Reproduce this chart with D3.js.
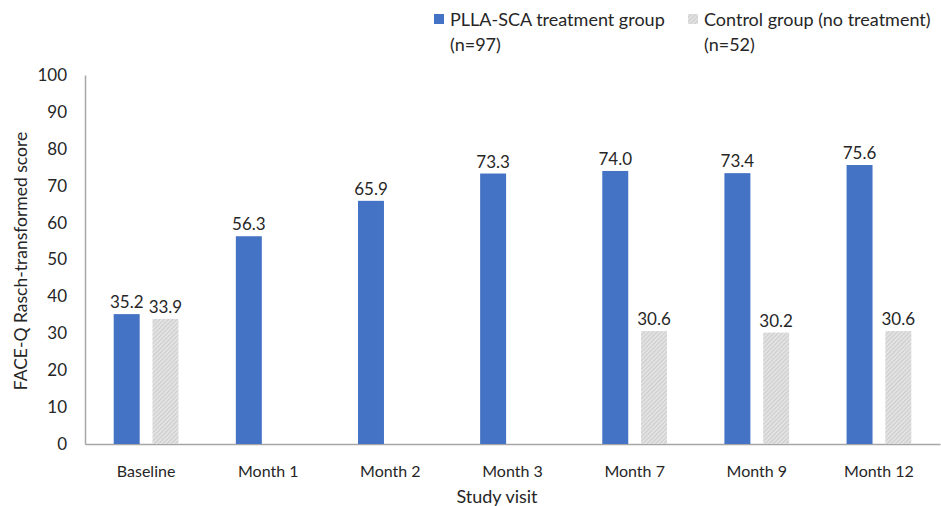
<!DOCTYPE html>
<html lang="en">
<head>
<meta charset="utf-8">
<title>FACE-Q scores by study visit</title>
<script src="https://d3js.org/d3.v7.min.js"></script>
<style>
  body { margin: 0; background: #fff; }
  text { font-family: Lato, "Open Sans", sans-serif; fill: #262626; }
</style>
</head>
<body>
<div id="chart"></div>
<script>
var visits = ["Baseline", "Month 1", "Month 2", "Month 3", "Month 7", "Month 9", "Month 12"];
var treatment = [35.2, 56.3, 65.9, 73.3, 74.0, 73.4, 75.6];
var control = [33.9, null, null, null, 30.6, 30.2, 30.6];
var yTicks = [0, 10, 20, 30, 40, 50, 60, 70, 80, 90, 100];
var groups = ["treat", "control"];
var legendLabels = [["PLLA-SCA treatment group", "(n=97)"], ["Control group (no treatment)", "(n=52)"]];

var w = 941, h = 506;
var mLeft = 85, mRight = 940, mTop = 75, mBottom = 444;

var svg = d3.select("#chart").append("svg")
    .attr("width", w).attr("height", h);

// hatched fill for the control bars
var pat = svg.append("defs").append("pattern")
    .attr("id", "hatch")
    .attr("patternUnits", "userSpaceOnUse")
    .attr("width", 3).attr("height", 3)
    .attr("patternTransform", "rotate(45)");
pat.append("rect").attr("width", 3).attr("height", 3).attr("fill", "#e2e2e2");
pat.append("line").attr("x1", 0).attr("y1", 0).attr("x2", 0).attr("y2", 3)
    .attr("stroke", "#bdbdbd").attr("stroke-width", 1.2);

var colors = { treat: "#4472c4", control: "url(#hatch)" };

var x0 = d3.scaleBand().domain(visits).range([mLeft, mRight])
    .paddingInner(0.47).paddingOuter(0.235);
var x1 = d3.scaleBand().domain(groups).range([0, x0.bandwidth()])
    .paddingInner(0.33);
var y = d3.scaleLinear().domain([0, 100]).range([mBottom, mTop]);

// y axis
var yAxis = d3.axisLeft(y).tickValues(yTicks).tickSize(0).tickPadding(18);
var gy = svg.append("g").attr("transform", "translate(" + mLeft + ",0)").call(yAxis);
gy.select(".domain").attr("stroke", "#a6a6a6").attr("stroke-width", 1.5);
gy.selectAll("text").style("font-size", "17px").attr("fill", "#262626");

// x axis
var xAxis = d3.axisBottom(x0).tickSize(0).tickPadding(22);
var gx = svg.append("g").attr("transform", "translate(0," + mBottom + ")").call(xAxis);
gx.select(".domain").attr("stroke", "#a6a6a6").attr("stroke-width", 1.5);
gx.selectAll("text").style("font-size", "16px").attr("fill", "#262626");

var rows = visits.map(function(v, i) {
    return { visit: v, vals: [
        { key: "treat", value: treatment[i] },
        { key: "control", value: control[i] }
    ].filter(function(d) { return d.value != null; }) };
});

var grp = svg.selectAll(".grp").data(rows).enter().append("g")
    .attr("transform", function(d) { return "translate(" + x0(d.visit) + ",0)"; });

grp.selectAll("rect").data(function(d) { return d.vals; }).enter().append("rect")
    .attr("x", function(d) { return x1(d.key); })
    .attr("y", function(d) { return y(d.value); })
    .attr("width", x1.bandwidth())
    .attr("height", function(d) { return y(0) - y(d.value); })
    .attr("fill", function(d) { return colors[d.key]; });

grp.selectAll(".lbl").data(function(d) { return d.vals; }).enter().append("text")
    .attr("class", "lbl")
    .attr("x", function(d) { return x1(d.key) + x1.bandwidth() / 2; })
    .attr("y", function(d) { return y(d.value) - 6; })
    .attr("text-anchor", "middle")
    .style("font-size", "17px")
    .text(function(d) { return d.value.toFixed(1); });

// axis titles
svg.append("text")
    .attr("transform", "rotate(-90)")
    .attr("x", -261).attr("y", 27)
    .attr("text-anchor", "middle")
    .style("font-size", "17.5px")
    .text("FACE-Q Rasch-transformed score");

svg.append("text")
    .attr("x", 497).attr("y", 503)
    .attr("text-anchor", "middle")
    .style("font-size", "18px")
    .text("Study visit");

// legend
var legX = [434, 688];
var leg = svg.selectAll(".leg").data(groups).enter().append("g")
    .attr("transform", function(d, i) { return "translate(" + legX[i] + ",0)"; });
leg.append("rect").attr("x", 0).attr("y", 14).attr("width", 10).attr("height", 10)
    .attr("fill", function(d) { return colors[d]; });
leg.each(function(d, i) {
    var t = d3.select(this).append("text").style("font-size", "18px");
    t.append("tspan").attr("x", 16).attr("y", 26).text(legendLabels[i][0]);
    t.append("tspan").attr("x", 16).attr("y", 51).text(legendLabels[i][1]);
});
</script>
</body>
</html>
